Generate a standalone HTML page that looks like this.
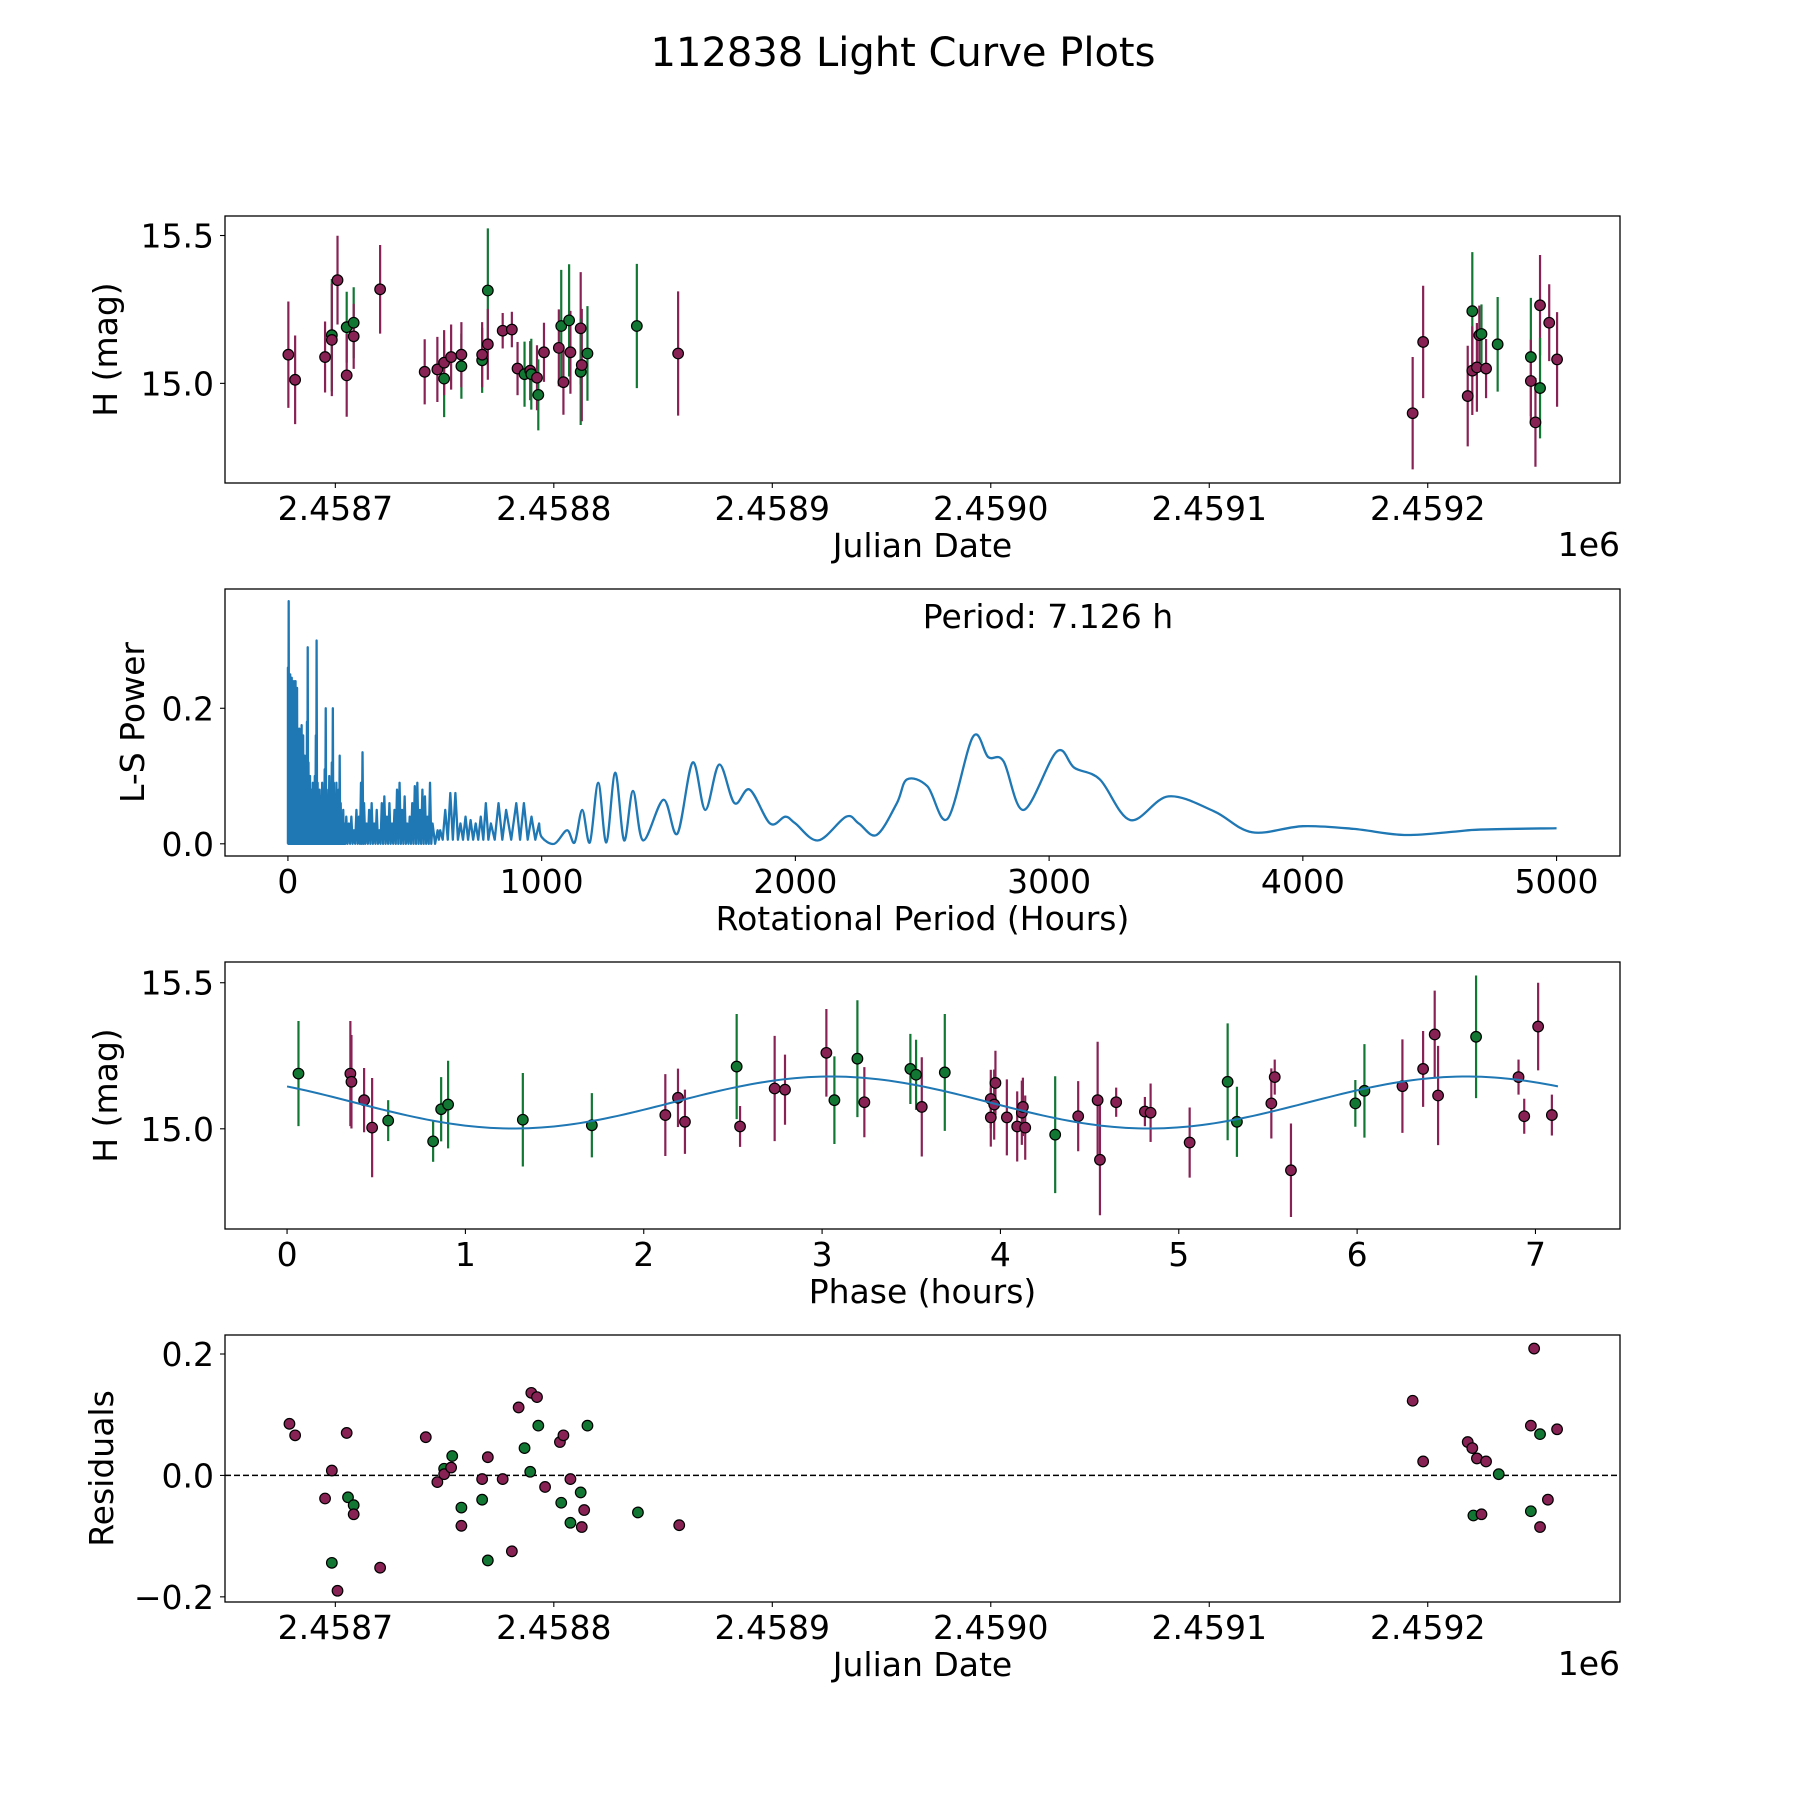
<!DOCTYPE html>
<html><head><meta charset="utf-8"><style>
html,body{margin:0;padding:0;background:#fff}
svg{display:block}
text{font-family:"DejaVu Sans","Liberation Sans",sans-serif;fill:#000}
</style></head><body>
<svg id="fig" width="1800" height="1800" viewBox="0 0 1800 1800">
<rect width="1800" height="1800" fill="#fff"/>
<text x="903" y="66" font-size="40" text-anchor="middle">112838 Light Curve Plots</text>
</svg>
<script>
// ---- Data: top light curve (days since JD 2458700) ----
const lcDays=[-21.5,-18.4,-4.7,-1.6,-1.6,1.0,5.2,5.2,8.4,8.4,20.5,40.9,46.7,49.8,49.8,53.0,57.7,57.7,67.2,67.2,69.8,69.8,76.6,80.8,83.4,86.6,89.2,89.7,92.3,92.9,95.5,102.3,103.4,104.4,107.0,107.6,112.3,112.3,112.8,115.4,138.0,156.9,493.1,497.9,518.3,520.4,520.4,522.5,523.6,524.6,526.7,532.0,547.2,547.2,549.3,551.4,551.4,555.6,559.2];
const lcMag=[15.097,15.012,15.089,15.163,15.147,15.349,15.190,15.027,15.205,15.159,15.318,15.039,15.047,15.016,15.070,15.089,15.058,15.097,15.078,15.097,15.314,15.132,15.178,15.182,15.050,15.031,15.043,15.031,15.019,14.961,15.105,15.120,15.194,15.004,15.213,15.105,15.186,15.039,15.062,15.101,15.194,15.101,14.899,15.140,14.957,15.244,15.043,15.054,15.163,15.167,15.050,15.132,15.089,15.008,14.868,15.264,14.984,15.205,15.081];
const lcErr=[0.18,0.15,0.12,0.19,0.19,0.15,0.12,0.14,0.12,0.11,0.15,0.11,0.11,0.13,0.11,0.11,0.11,0.11,0.11,0.11,0.21,0.12,0.06,0.06,0.09,0.11,0.10,0.12,0.11,0.12,0.10,0.13,0.19,0.11,0.19,0.14,0.19,0.18,0.19,0.16,0.21,0.21,0.19,0.19,0.17,0.20,0.15,0.15,0.10,0.10,0.10,0.16,0.20,0.14,0.15,0.17,0.17,0.13,0.16];
const lcBand=["m","m","m","g","m","m","g","m","g","m","m","m","m","g","m","m","g","m","g","m","g","m","m","m","m","g","m","g","m","g","m","m","g","m","g","m","m","g","m","g","g","m","m","m","m","g","m","m","m","g","m","g","g","m","m","m","g","m","m"];
const jdTicks=[0,100,200,300,400,500];
const jdTickLabels=["2.4587","2.4588","2.4589","2.4590","2.4591","2.4592"];
const magTicks=[15.0,15.5];
const magTickLabels=["15.0","15.5"];
// ---- Periodogram ----
const spikePeriods=[0,3,6,9,12,15,18,21,24,27,30,33,36,39,42,45,48,51,54,57,60,63,66,69,72,75,78,81,84,87,90,94,98,102,106,110,113,117,121,125,130,135,140,145,149,153,158,163,168,173,177,181,186,191,196,200,204,208,213,218,223,230,240,250,260,270,280,288,294,300,310,320,330,340,350,360,370,380,390,400,410,420,430,440,450,460,470,480,490,500,510,520,530,540,550,560,570,590,600,620,640,660,680,700,720,740,760,780,800,830,860,900,930,960,990];
const spikePowers=[0.26,0.358,0.24,0.25,0.23,0.245,0.24,0.22,0.24,0.2,0.24,0.19,0.23,0.17,0.16,0.17,0.12,0.14,0.175,0.12,0.16,0.1,0.13,0.09,0.11,0.18,0.29,0.12,0.08,0.1,0.07,0.08,0.09,0.06,0.1,0.16,0.30,0.09,0.06,0.08,0.07,0.09,0.05,0.11,0.2,0.08,0.06,0.1,0.07,0.12,0.2,0.09,0.06,0.09,0.05,0.08,0.13,0.06,0.04,0.05,0.03,0.04,0.03,0.04,0.02,0.05,0.04,0.09,0.135,0.06,0.03,0.05,0.06,0.03,0.05,0.02,0.06,0.07,0.04,0.06,0.03,0.05,0.08,0.09,0.05,0.07,0.03,0.04,0.06,0.085,0.09,0.05,0.08,0.07,0.04,0.09,0.03,0.02,0.02,0.05,0.075,0.075,0.03,0.04,0.035,0.03,0.04,0.06,0.03,0.06,0.05,0.06,0.06,0.04,0.03];
const curvePeriods=[1000,1050,1100,1130,1160,1190,1223,1255,1290,1325,1360,1400,1480,1535,1595,1645,1700,1760,1820,1900,1960,2000,2090,2200,2250,2320,2400,2440,2520,2600,2700,2760,2820,2900,3030,3100,3200,3320,3470,3650,3800,4000,4200,4400,4600,4700,5000];
const curvePowers=[0.01,0.0,0.02,0.002,0.05,0.002,0.09,0.002,0.105,0.005,0.078,0.005,0.065,0.015,0.12,0.05,0.117,0.06,0.08,0.03,0.04,0.03,0.005,0.04,0.03,0.013,0.06,0.095,0.085,0.037,0.158,0.128,0.122,0.05,0.136,0.112,0.095,0.035,0.07,0.048,0.017,0.026,0.022,0.013,0.018,0.021,0.023];
const perTicks=[0,1000,2000,3000,4000,5000];
const powTicks=[0.0,0.2];
const powTickLabels=["0.0","0.2"];
// ---- Phase-folded ----
const phaseVals=[0.064,0.355,0.361,0.432,0.477,0.567,0.819,0.864,0.903,1.322,1.709,2.121,2.192,2.231,2.521,2.540,2.734,2.792,3.024,3.069,3.198,3.237,3.495,3.527,3.559,3.688,3.946,3.972,3.946,3.965,4.036,4.094,4.120,4.126,4.139,4.307,4.436,4.545,4.558,4.649,4.810,4.842,5.061,5.274,5.326,5.519,5.538,5.629,5.990,6.041,6.254,6.370,6.435,6.454,6.667,6.905,6.937,7.015,7.092];
const phaseMag=[15.189,15.189,15.161,15.098,15.004,15.028,14.957,15.067,15.083,15.031,15.012,15.047,15.106,15.024,15.213,15.008,15.138,15.134,15.260,15.098,15.240,15.091,15.205,15.185,15.075,15.193,15.102,15.157,15.039,15.083,15.039,15.008,15.055,15.075,15.004,14.980,15.043,15.098,14.894,15.091,15.059,15.055,14.953,15.161,15.024,15.087,15.177,14.858,15.087,15.130,15.146,15.205,15.323,15.114,15.315,15.177,15.043,15.350,15.047];
const phaseErr=[0.18,0.18,0.16,0.11,0.17,0.07,0.07,0.11,0.15,0.16,0.11,0.14,0.1,0.11,0.18,0.07,0.18,0.12,0.15,0.15,0.2,0.12,0.12,0.12,0.17,0.2,0.1,0.11,0.1,0.12,0.13,0.12,0.11,0.1,0.11,0.2,0.12,0.2,0.19,0.05,0.05,0.1,0.12,0.2,0.12,0.12,0.06,0.16,0.08,0.16,0.16,0.13,0.15,0.17,0.21,0.06,0.06,0.15,0.07];
const phaseBand=["g","m","m","m","m","g","g","g","g","g","g","m","m","m","g","m","m","m","m","g","g","m","g","g","m","g","m","m","m","m","m","m","m","m","m","g","m","m","m","m","m","m","m","g","g","m","m","m","g","g","m","m","m","m","g","m","m","m","m"];
const fitMean=[15.09], fitAmp=[0.089], fitPeriod=[3.563], fitShift=[2.16], fitRange=[0,7.126];
const phaseTicks=[0,1,2,3,4,5,6,7];
// ---- Residuals ----
const resDays=[-21.0,-18.4,-4.7,-1.6,-1.6,1.0,5.2,5.8,8.4,8.4,20.5,41.4,46.7,49.8,49.8,53.0,53.5,57.7,57.7,67.2,67.2,69.8,69.8,76.6,80.8,83.9,86.6,89.2,89.7,92.3,92.9,96.0,102.8,103.4,104.4,107.6,107.6,112.3,112.8,113.9,115.4,138.5,157.4,493.1,497.9,518.3,520.4,520.9,522.5,524.6,526.7,532.5,547.2,547.2,548.7,551.4,551.4,555.0,559.2];
const resVals=[0.085,0.066,-0.038,0.008,-0.144,-0.190,0.070,-0.036,-0.049,-0.064,-0.152,0.063,-0.011,0.011,0.002,0.013,0.032,-0.053,-0.083,-0.006,-0.040,-0.140,0.030,-0.006,-0.125,0.112,0.045,0.006,0.136,0.129,0.082,-0.019,0.055,-0.045,0.066,-0.006,-0.078,-0.028,-0.085,-0.057,0.082,-0.061,-0.082,0.123,0.023,0.055,0.045,-0.066,0.028,-0.064,0.023,0.002,0.082,-0.059,0.209,0.068,-0.085,-0.040,0.076];
const resBand=["m","m","m","m","g","m","m","g","g","m","m","m","m","g","m","m","g","g","m","m","g","g","m","m","m","m","g","g","m","m","g","m","m","g","m","m","g","g","m","m","g","g","m","m","m","m","m","g","m","m","m","g","m","g","m","g","m","m","m"];
const resTicks=[-0.2,0.0,0.2];
const resTickLabels=["\u22120.2","0.0","0.2"];

const NS="http://www.w3.org/2000/svg";
const svg=document.getElementById('fig');
const COL={m:"#882255",g:"#117733"};
function el(tag,attrs,parent){const e=document.createElementNS(NS,tag);for(const k in attrs)e.setAttribute(k,attrs[k]);(parent||svg).appendChild(e);return e;}
const L=225,R=1620,FS=33;
function makeAxes(top,bottom,xmin,xmax,ymin,ymax,name){
  const g=el('g',{});
  
  
  const sx=v=>L+(v-xmin)/(xmax-xmin)*(R-L);
  const sy=v=>bottom-(v-ymin)/(ymax-ymin)*(bottom-top);
  return {g,sx,sy,top,bottom};
}
function frame(ax){
  const r=el('rect',{x:L,y:ax.top,width:R-L,height:ax.bottom-ax.top,fill:'none',stroke:'#000','stroke-width':1.3},ax.g);
  
  
}
function xticks(ax,vals,labels){
  vals.forEach((v,i)=>{
    const x=ax.sx(v);
    el('line',{x1:x,x2:x,y1:ax.bottom,y2:ax.bottom+5,stroke:'#000','stroke-width':1.1},ax.g);
    const t=el('text',{x:x,y:ax.bottom+37,'font-size':FS,'text-anchor':'middle'},ax.g);
    t.textContent=labels[i];
    
    
  });
}
function yticks(ax,vals,labels){
  vals.forEach((v,i)=>{
    const y=ax.sy(v);
    el('line',{x1:L-5,x2:L,y1:y,y2:y,stroke:'#000','stroke-width':1.1},ax.g);
    const t=el('text',{x:L-11,y:y+12,'font-size':FS,'text-anchor':'end'},ax.g);
    t.textContent=labels[i];
    
    
  });
}
function labels(ax,xl,yl,yx,offset){
  const t=el('text',{x:(L+R)/2,y:ax.bottom+74,'font-size':FS,'text-anchor':'middle'},ax.g);
  t.textContent=xl;
  
  
  const cy=(ax.top+ax.bottom)/2;
  const u=el('text',{x:yx,y:cy,'font-size':FS,'text-anchor':'middle',transform:`rotate(-90 ${yx} ${cy})`},ax.g);
  u.textContent=yl;
  
  
  if(offset){
    const o=el('text',{x:R,y:ax.bottom+73,'font-size':FS,'text-anchor':'end'},ax.g);
    o.textContent=offset;
    
    
  }
}
function points(ax,xs,ys,errs,bands){
  xs.forEach((xv,i)=>{
    const x=ax.sx(xv);
    if(errs){
      const e=el('line',{x1:x,x2:x,y1:ax.sy(ys[i]+errs[i]),y2:ax.sy(ys[i]-errs[i]),stroke:COL[bands[i]],'stroke-width':2.2},ax.g);
      
      
    }
  });
  xs.forEach((xv,i)=>{
    const c=el('circle',{cx:ax.sx(xv),cy:ax.sy(ys[i]),r:5.3,fill:COL[bands[i]],stroke:'#000','stroke-width':1.2},ax.g);
    
    
  });
}

// Axes 1: light curve
const ax1=makeAxes(216,483,-50.5,588,14.663,15.566,'light-curve-axes');
points(ax1,lcDays,lcMag,lcErr,lcBand);
frame(ax1);xticks(ax1,jdTicks,jdTickLabels);yticks(ax1,magTicks,magTickLabels);
labels(ax1,'Julian Date','H (mag)',117,'1e6');

// Axes 2: periodogram
const ax2=makeAxes(589,856,-248,5250,-0.018,0.376,'periodogram-axes');
{
  let d='';
  spikePeriods.forEach((p,i)=>{
    const floor=p<600?0:0.006;
    const prev=i>0?spikePeriods[i-1]:p;
    const mid=(prev+p)/2;
    if(i===0)d+=`M${ax2.sx(p)},${ax2.sy(floor)}`;
    else d+=`L${ax2.sx(mid)},${ax2.sy(floor)}`;
    d+=`L${ax2.sx(p)},${ax2.sy(spikePowers[i])}`;
  });
  const pts=[[spikePeriods[spikePeriods.length-1],spikePowers[spikePowers.length-1]]].concat(curvePeriods.map((p,i)=>[p,curvePowers[i]])).map(q=>[ax2.sx(q[0]),ax2.sy(q[1])]);
  for(let i=0;i<pts.length-1;i++){
    const p0=pts[Math.max(0,i-1)],p1=pts[i],p2=pts[i+1],p3=pts[Math.min(pts.length-1,i+2)];
    const c1=[p1[0]+(p2[0]-p0[0])/6,p1[1]+(p2[1]-p0[1])/6];
    const c2=[p2[0]-(p3[0]-p1[0])/6,p2[1]-(p3[1]-p1[1])/6];
    d+=`C${c1[0]},${c1[1]} ${c2[0]},${c2[1]} ${p2[0]},${p2[1]}`;
  }
  const ln=el('path',{d:d,fill:'none',stroke:'#1f77b4','stroke-width':2.3,'stroke-linejoin':'round'},ax2.g);
  
  
}
frame(ax2);xticks(ax2,perTicks,perTicks.map(String));yticks(ax2,powTicks,powTickLabels);
labels(ax2,'Rotational Period (Hours)','L-S Power',144);
{
  const t=el('text',{x:1048,y:628,'font-size':FS,'text-anchor':'middle'},ax2.g);
  t.textContent='Period: 7.126 h';
  
  
}

// Axes 3: phase folded
const ax3=makeAxes(962,1229,-0.348,7.474,14.657,15.571,'phase-axes');
points(ax3,phaseVals,phaseMag,phaseErr,phaseBand);
{
  let d='';
  const n=200;
  for(let k=0;k<=n;k++){
    const p=fitRange[0]+(fitRange[1]-fitRange[0])*k/n;
    const m=fitMean[0]+fitAmp[0]*Math.sin(2*Math.PI*(p-fitShift[0])/fitPeriod[0]);
    d+=(k?'L':'M')+ax3.sx(p)+','+ax3.sy(m);
  }
  const c=el('path',{d:d,fill:'none',stroke:'#1f77b4','stroke-width':2},ax3.g);
  
  
}
frame(ax3);xticks(ax3,phaseTicks,phaseTicks.map(String));yticks(ax3,magTicks,magTickLabels);
labels(ax3,'Phase (hours)','H (mag)',117);

// Axes 4: residuals
const ax4=makeAxes(1335,1602,-50.5,588,-0.2085,0.2313,'residuals-axes');
{
  const z=el('line',{x1:L,x2:R,y1:ax4.sy(0),y2:ax4.sy(0),stroke:'#000','stroke-width':1.5,'stroke-dasharray':'6,3'},ax4.g);
  
  
}
points(ax4,resDays,resVals,null,resBand);
frame(ax4);xticks(ax4,jdTicks,jdTickLabels);yticks(ax4,resTicks,resTickLabels);
labels(ax4,'Julian Date','Residuals',113,'1e6');
</script>
</body></html>
